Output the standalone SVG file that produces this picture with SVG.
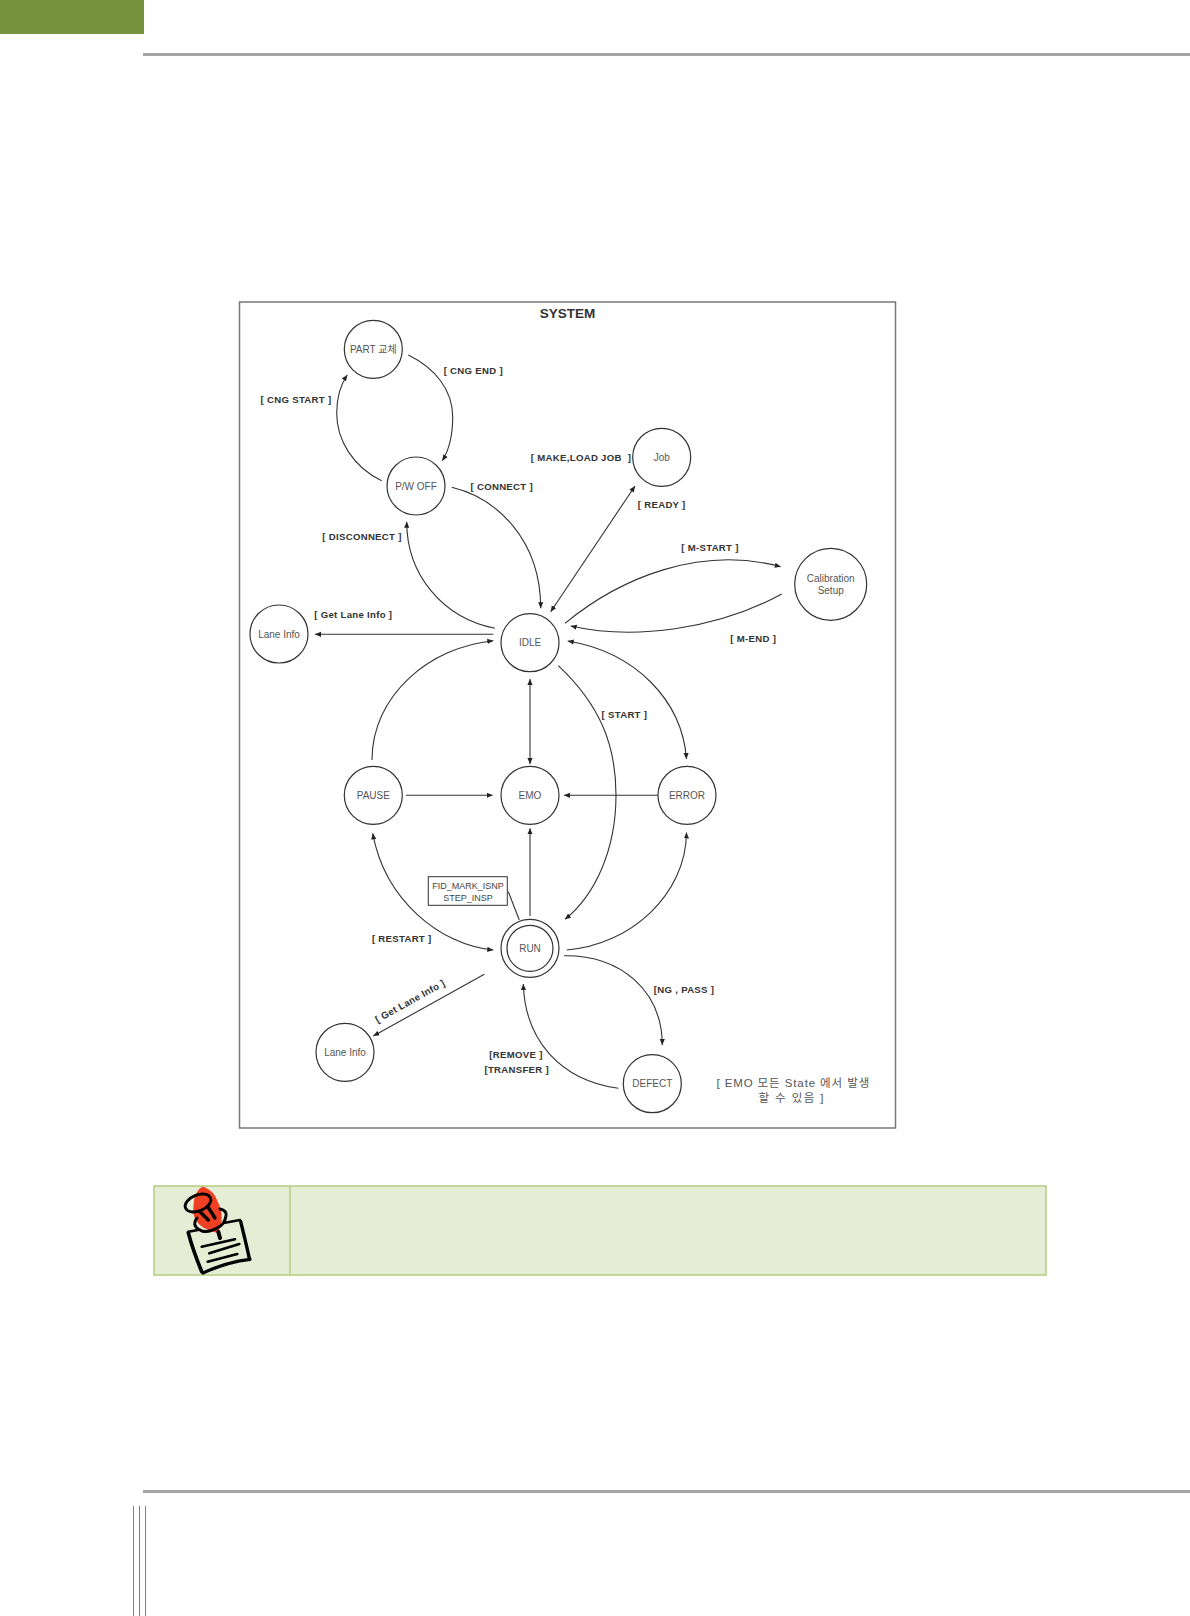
<svg xmlns="http://www.w3.org/2000/svg" width="1190" height="1616" viewBox="0 0 1190 1616">
<style>
text{font-family:"Liberation Sans","Noto Sans CJK KR",sans-serif;text-anchor:middle}
.n circle{fill:#fff;stroke:#333;stroke-width:1.2}
.n text{font-size:10px;fill:#555}
.c path{fill:none;stroke:#333;stroke-width:1.1;marker-end:url(#a)}
.c path.b{marker-start:url(#s)}
.c path.p{marker-end:none}
.l{font-size:9.6px;font-weight:bold;fill:#333;letter-spacing:.3px}
.k{fill:none;stroke:#000;stroke-linecap:round;stroke-linejoin:round}
</style>
<defs>
<marker id="a" markerUnits="userSpaceOnUse" markerWidth="7" markerHeight="6" refX="6" refY="3" orient="auto"><path d="M0 .4L6 3L0 5.6z" fill="#222"/></marker>
<marker id="s" markerUnits="userSpaceOnUse" markerWidth="7" markerHeight="6" refX="0" refY="3" orient="auto"><path d="M6 .4L0 3L6 5.6z" fill="#222"/></marker>
</defs>
<rect width="1190" height="1616" fill="#fff"/>
<rect x="0" y="0" width="144" height="34" fill="#76923c"/>
<rect x="143" y="53" width="1047" height="3" fill="#a5a5a5"/>
<rect x="143" y="1490" width="1047" height="3" fill="#a5a5a5"/>
<g fill="#76923c"><rect x="133" y="1506" width="1" height="110"/><rect x="139" y="1506" width="1" height="110"/><rect x="145" y="1506" width="1" height="110"/></g>

<rect x="239.5" y="302" width="656" height="826" fill="#fff" stroke="#777" stroke-width="1.5"/>
<text x="567.5" y="318" font-size="13.5" font-weight="bold" fill="#333">SYSTEM</text>

<g class="c" id="connectors">
<path d="M381.7 480.7C353 467 336.7 440 336.7 413.3C336.7 397 341.7 383 347.3 375"/>
<path d="M408.3 355C435 368 452.7 390 452.7 416.7C452.7 435 449 450 442.3 460.7"/>
<path d="M451.7 487.3C497 498 540.7 540 540.7 608.3"/>
<path d="M495 628.3C443 618 406.7 575 406.7 521.7"/>
<path d="M493.3 634.3H315"/>
<path class="b" d="M635 486L550.7 611.7"/>
<path d="M565 623.3C620 578 700 545 780.7 566.7"/>
<path d="M781.7 594C716 630 633 640 570.7 626"/>
<path class="b" d="M567.7 641C635 652 682 700 686.5 759"/>
<path class="b" d="M530 679V764"/>
<path d="M372 760C372 695 430 647 493.3 640.7"/>
<path d="M406 795.3H492.7"/>
<path d="M659 795.3H564"/>
<path d="M558.3 665.7C600 705 616 745 616 795C616 850 595 895 565 919.3"/>
<path d="M566.7 950C630 945 686 895 686.5 832.5"/>
<path d="M530 916V828.3"/>
<path class="b" d="M372.7 833.3C385 900 440 945 493.3 950"/>
<path class="p" d="M508.3 891.7L519.3 920"/>
<path d="M484.3 974.3L373.3 1036"/>
<path d="M564 955.7C620 955 662 990 662.3 1045"/>
<path d="M618.3 1088.3C560 1080 525 1040 523.3 984"/>
</g>

<g class="n" id="part"><circle cx="373.3" cy="349.3" r="29"/><text x="373.3" y="352.5">PART 교체</text></g>
<g class="n" id="pwoff"><circle cx="416" cy="486" r="29"/><text x="416" y="489.5">P/W OFF</text></g>
<g class="n" id="idle"><circle cx="530" cy="642.7" r="29"/><text x="530" y="646">IDLE</text></g>
<g class="n" id="lane1"><circle cx="279" cy="634" r="29"/><text x="279" y="637.5">Lane Info</text></g>
<g class="n" id="job"><circle cx="661.7" cy="457.3" r="29"/><text x="661.7" y="460.5">Job</text></g>
<g class="n" id="calibration"><circle cx="830.7" cy="584.3" r="36"/><text x="830.7" y="581.5">Calibration</text><text x="830.7" y="593.5">Setup</text></g>
<g class="n" id="pause"><circle cx="373.3" cy="795.3" r="29"/><text x="373.3" y="798.5">PAUSE</text></g>
<g class="n" id="emo"><circle cx="530" cy="795.3" r="29"/><text x="530" y="798.5">EMO</text></g>
<g class="n" id="error"><circle cx="687" cy="795.3" r="29"/><text x="687" y="798.5">ERROR</text></g>
<g class="n" id="run"><circle cx="530" cy="948.3" r="29"/><circle cx="530" cy="948.3" r="23"/><text x="530" y="951.5">RUN</text></g>
<g class="n" id="lane2"><circle cx="345" cy="1052.3" r="29"/><text x="345" y="1055.5">Lane Info</text></g>
<g class="n" id="defect"><circle cx="652.3" cy="1083.7" r="29"/><text x="652.3" y="1087">DEFECT</text></g>
<g id="fid"><rect x="428.3" y="876.7" width="79" height="28.6" fill="#fff" stroke="#333" stroke-width="1"/><text x="468" y="888.5" font-size="9" fill="#444">FID_MARK_ISNP</text><text x="468" y="901" font-size="9" fill="#444">STEP_INSP</text></g>

<g id="labels">
<text class="l" x="473.3" y="374">[ CNG END ]</text>
<text class="l" x="296" y="402.5">[ CNG START ]</text>
<text class="l" x="501.7" y="489.5">[ CONNECT ]</text>
<text class="l" x="362" y="539.5">[ DISCONNECT ]</text>
<text class="l" x="353.3" y="617.5">[ Get Lane Info ]</text>
<text class="l" x="581" y="461">[ MAKE,LOAD JOB&#160; ]</text>
<text class="l" x="661.7" y="507.5">[ READY ]</text>
<text class="l" x="710" y="550.5">[ M-START ]</text>
<text class="l" x="753.3" y="642">[ M-END ]</text>
<text class="l" x="624.4" y="717.5">[ START ]</text>
<text class="l" x="401.7" y="941.5">[ RESTART ]</text>
<text class="l" transform="translate(411.7 1004) rotate(-29)">[ Get Lane Info ]</text>
<text class="l" x="516" y="1058">[REMOVE ]</text>
<text class="l" x="516.7" y="1072.5">[TRANSFER ]</text>
<text class="l" x="684" y="992.5">[NG , PASS ]</text>
<text x="793.3" y="1086.5" font-size="11.5" fill="#555" letter-spacing=".9">[ EMO 모든 State 에서 발생</text>
<text x="791.7" y="1101.5" font-size="11.5" fill="#555" letter-spacing="1.4">할 수 있음 ]</text>
</g>

<g id="note">
<rect x="154" y="1186" width="892" height="89" fill="#e6edd5" stroke="#b5cc80" stroke-width="1.5"/>
<path d="M290 1186V1275" stroke="#b5cc80" stroke-width="1.5"/>
<path d="M203.3 1186.7C210 1189 215 1194 217 1200C220 1206 222 1212 221.7 1218C221.5 1224 220 1229 217.3 1233C212 1231 204 1229 200 1225C195 1220 193 1215 193.3 1210C193.5 1204 194 1199 195 1196.7C197 1191 200 1187 203.3 1186.7z" fill="#f04023"/>
<g class="k">
<ellipse cx="198" cy="1203" rx="13.5" ry="8" transform="rotate(-22 198 1203)" stroke-width="2.8"/>
<path d="M200 1211.7L208.3 1220M208 1207L215 1218" stroke-width="3.4"/>
<path d="M220 1209C225 1210 227 1213 226 1216C225 1222 222 1226 217 1228C212 1231 206 1232 202 1231C196 1229 194 1225 195 1222C195 1220 196 1219 197 1218" stroke-width="3"/>
<path d="M218.3 1231.7L220 1238" stroke-width="4"/>
<path d="M188.3 1231.7L198 1230M225 1222.7L240 1220" stroke-width="2.4"/>
<path d="M188.3 1232.7C192 1247 197 1260 201.7 1271.7" stroke-width="3.6"/>
<path d="M240.7 1221.7C244 1235 247 1247 249.3 1258.3" stroke-width="3.4"/>
<path d="M203 1273C218 1266 235 1261 250 1259.3" stroke-width="3.2"/>
<path d="M201.7 1246.7L235 1239.3M209.3 1253.3L239.3 1244M207.7 1261.7L237.3 1254" stroke-width="2.6"/>
</g>
</g>
</svg>
